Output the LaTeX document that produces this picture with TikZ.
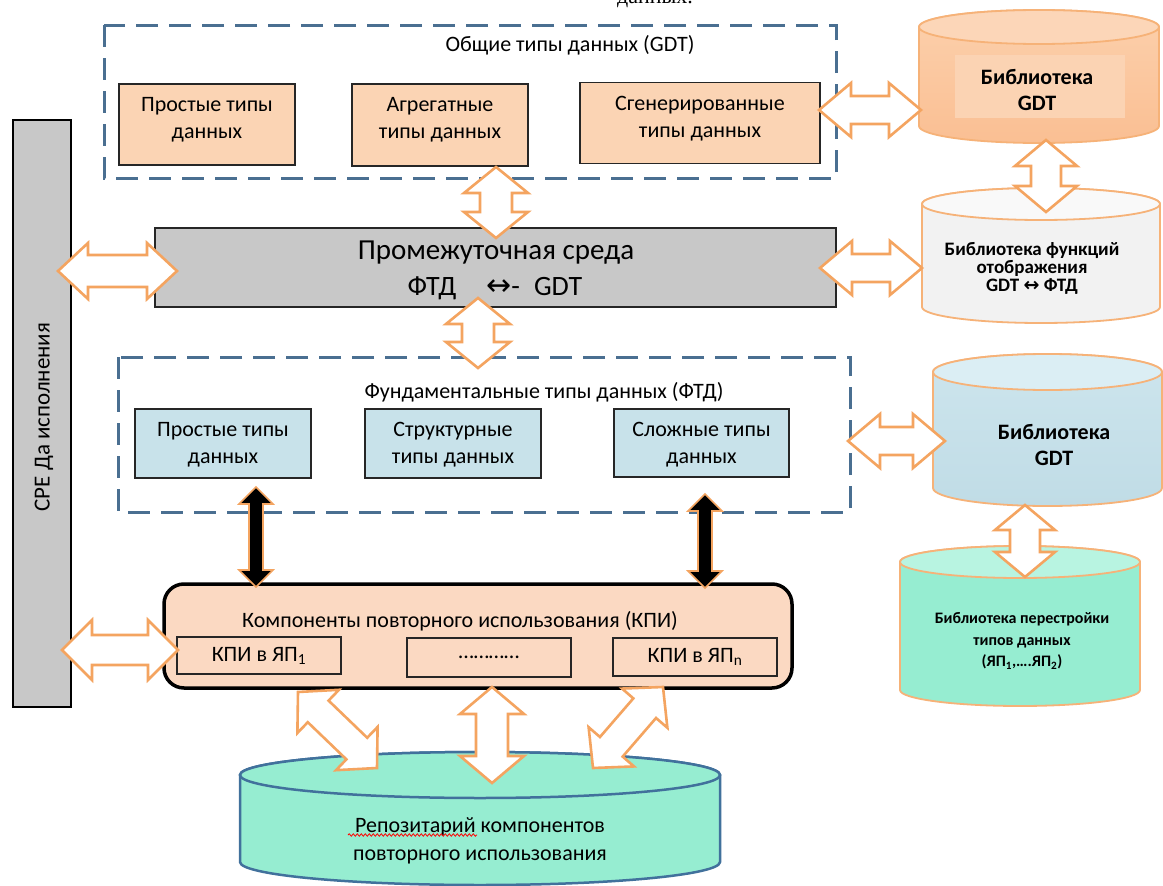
\documentclass[tikz,border=0pt]{standalone}
\usepackage{fontspec}
\setmainfont{Carlito}
\newfontfamily\symfont{DejaVu Sans}
\newfontfamily\serifru{Liberation Serif}
\usetikzlibrary{calc,decorations.pathmorphing}
\definecolor{peach}{HTML}{FBD4B4}
\definecolor{kpipeach}{HTML}{FBD9C2}
\definecolor{ltblue}{HTML}{C8E2EA}
\definecolor{midgray}{HTML}{C8C8C8}
\definecolor{dashblue}{HTML}{4A6F91}
\definecolor{arrorange}{HTML}{F4A460}
\definecolor{cylOa}{HTML}{FCD0AC}
\definecolor{cylOb}{HTML}{FABF93}
\definecolor{cylOtop}{HTML}{FCD6B8}
\definecolor{cylOinner}{HTML}{FBD3B3}
\definecolor{cylW}{HTML}{F2F2F2}
\definecolor{cylWtop}{HTML}{F9F9F9}
\definecolor{cylBa}{HTML}{CDE5ED}
\definecolor{cylBb}{HTML}{C0DCE6}
\definecolor{cylBtop}{HTML}{DBEEF4}
\definecolor{mint}{HTML}{96EDD1}
\definecolor{minttop}{HTML}{B8F4E1}
\definecolor{repoblue}{HTML}{41719C}
\newcommand{\fs}[2]{\fontsize{#1}{#2}\selectfont}
\tikzset{
  dashbox/.style={draw=dashblue, line width=3pt, dash pattern=on 22pt off 11pt},
  box/.style={draw=black!85, line width=1.2pt, inner sep=0pt},
  gbox/.style={box, fill=peach},
  fbox/.style={box, fill=ltblue},
  kbox/.style={box, fill=kpipeach},
  btext/.style={align=center, font=\fs{22}{27}},
  fatarr/.style={draw=arrorange, line width=2.6pt, fill=white, line join=miter},
  blackarr/.style={draw=arrorange, line width=1.6pt, fill=black, line join=miter},
  cylborder/.style={draw=arrorange!85, line width=1.8pt},
}
% #1 style, #2 from, #3 to, #4 shaft half, #5 head half, #6 head length
\newcommand{\fatarrow}[6][fatarr]{%
  \path[#1] let \p1=($(#3)-(#2)$), \n1={atan2(\y1,\x1)}, \n2={veclen(\x1,\y1)}, \n3={\n2-#6} in
   (#2) -- ($(#2)+(\n1:#6)+(\n1+90:#5)$) -- ($(#2)+(\n1:#6)+(\n1+90:#4)$)
   -- ($(#2)+(\n1:\n3)+(\n1+90:#4)$) -- ($(#2)+(\n1:\n3)+(\n1+90:#5)$)
   -- (#3) -- ($(#2)+(\n1:\n3)+(\n1-90:#5)$) -- ($(#2)+(\n1:\n3)+(\n1-90:#4)$)
   -- ($(#2)+(\n1:#6)+(\n1-90:#4)$) -- ($(#2)+(\n1:#6)+(\n1-90:#5)$) -- cycle;
}
% cylinder: #1 xleft, #2 xright, #3 top center y, #4 bottom center y, #5 rx(pt), #6 ry(pt), #7 body style, #8 top style
\newcommand{\cyl}[8]{%
  \path[#7] (#1,#3) -- (#1,#4) arc[start angle=180, end angle=360, x radius=#5, y radius=#6]
     -- (#2,#3) arc[start angle=0, end angle=180, x radius=#5, y radius=#6] -- cycle;
  \path[#8] ($(#1,#3)!0.5!(#2,#3)$) ellipse[x radius=#5, y radius=#6];
}
\begin{document}
\begin{tikzpicture}[x=1pt,y=-1pt]
\useasboundingbox (0,0) rectangle (1163,886);
\clip (0,0) rectangle (1163,886);
\fill[white] (0,0) rectangle (1163,886);

% cut-off caption text at the very top
\node[font=\serifru\fs{22}{26}, anchor=base] (captxt) at (655,3) {данных.};

% ---------------- GDT block ----------------
\draw[dashbox] (104,25) rectangle (836,178);
\node[font=\fs{22}{27}] (gdttitle) at (570,45) {Общие типы данных (GDT)};
\node[gbox, minimum width=176pt, minimum height=81pt] (g1) at (207,124.5) {};
\node[btext] (g1t) at (207,120) {Простые типы\\данных};
\node[gbox, minimum width=176pt, minimum height=82pt] (g2) at (440,125) {};
\node[btext] (g2t) at (440,120) {Агрегатные\\типы данных};
\node[gbox, minimum width=240pt, minimum height=81pt] (g3) at (700,123) {};
\node[btext] (g3t) at (700,119) {Сгенерированные\\типы данных};

% ---------------- cylinder 1 ----------------
\cyl{919}{1159}{27}{126}{120pt}{17pt}{cylborder, top color=cylOa, bottom color=cylOb}{cylborder, fill=cylOtop}
\fill[cylOinner] (955,55) rectangle (1125,118);
\node[align=center, font=\bfseries\fs{22}{26}] (cyl1) at (1037,90) {Библиотека\\GDT};

% ---------------- cylinder 2 ----------------
\cyl{922}{1160}{204}{307}{119pt}{16pt}{cylborder, fill=cylW}{cylborder, fill=cylWtop}
\node[align=center, font=\bfseries\fs{19}{18}] (cyl2) at (1032,268) {Библиотека функций\\отображения\\GDT {\symfont\fs{19}{18}↔} ФТД};

% ---------------- CPE bar ----------------
\node[draw=black, line width=1.5pt, fill=midgray, minimum width=58pt, minimum height=587pt, inner sep=0pt] (cpe) at (42,413.5) {};
\node[rotate=90, font=\fs{23}{27}] (cpet) at (44,417) {СРЕ Да исполнения};

% ---------------- middle box ----------------
\node[draw=black!85, line width=1.5pt, fill=midgray, minimum width=681pt, minimum height=79pt, inner sep=0pt] (mid) at (495.5,267.5) {};
\node[font=\fs{29}{32}] (midt1) at (496,253) {Промежуточная среда};
\node[font=\fs{28}{32}] (midt2) at (495,288) {ФТД\hspace{30pt}{\symfont\fs{30}{32}↔}-\hspace{14pt}GDT};

% ---------------- cylinder 3 ----------------
\cyl{933}{1162}{372}{488}{114.5pt}{18pt}{cylborder, top color=cylBa, bottom color=cylBb}{cylborder, fill=cylBtop}
\node[align=center, font=\bfseries\fs{22}{26}] (cyl3) at (1054,445) {Библиотека\\GDT};

% ---------------- cylinder 4 ----------------
\cyl{900}{1140}{562}{690}{120pt}{16pt}{cylborder, fill=mint}{cylborder, fill=minttop}
\node[align=center, font=\bfseries\fs{16}{21.5}] (cyl4) at (1022,641) {Библиотека перестройки\\типов данных\\(ЯП\textsubscript{1},….ЯП\textsubscript{2})};

% ---------------- FTD block ----------------
\draw[dashbox] (118,357) rectangle (850,512);
\node[font=\fs{22}{27}] (ftdtitle) at (544,392) {Фундаментальные типы данных (ФТД)};
\node[fbox, minimum width=176pt, minimum height=69pt] (f1) at (223,443.5) {};
\node[btext] (f1t) at (223,445) {Простые типы\\данных};
\node[fbox, minimum width=176pt, minimum height=69pt] (f2) at (453,443.5) {};
\node[btext] (f2t) at (453,445) {Структурные\\типы данных};
\node[fbox, minimum width=175pt, minimum height=68pt] (f3) at (701.5,443) {};
\node[btext] (f3t) at (701.5,445) {Сложные типы\\данных};

% ---------------- KPI block ----------------
\node[draw=black, line width=3.5pt, fill=kpipeach, rounded corners=20pt, minimum width=628pt, minimum height=104pt, inner sep=0pt] (kpi) at (478,636) {};
\node[font=\fs{22}{27}] (kpit) at (460,621) {Компоненты повторного использования (КПИ)};
\node[kbox, minimum width=164pt, minimum height=37pt, font=\fs{22}{27}] (k1) at (259,655.5) {КПИ в ЯП\textsubscript{1}};
\node[kbox, minimum width=164pt, minimum height=39pt, font=\fs{22}{27}] (k2) at (489,657.5) {…………};
\node[kbox, minimum width=164pt, minimum height=38pt, font=\fs{22}{27}] (k3) at (695,657) {КПИ в ЯП\textsubscript{n}};

% ---------------- repository ----------------
\cyl{240}{720}{775}{862}{240pt}{23pt}{draw=repoblue, line width=2.5pt, fill=mint}{draw=repoblue, line width=2.5pt, fill=mint}
\node[align=center, font=\fs{22}{28}] (repo) at (480,841) {Репозитарий компонентов\\повторного использования};
\draw[red, line width=0.8pt, decorate, decoration={snake, amplitude=1.2pt, segment length=4pt}] (348,835) -- (477,835);

% ---------------- connectors ----------------
\coordinate (a1l) at (819,110);   \coordinate (a1r) at (921,110);
\coordinate (a2t) at (1046,140);  \coordinate (a2b) at (1046,212);
\coordinate (a3t) at (496,167);   \coordinate (a3b) at (496,238);
\coordinate (a4l) at (58,271);    \coordinate (a4r) at (177,271);
\coordinate (a5l) at (820,268);   \coordinate (a5r) at (922,268);
\coordinate (a6t) at (478,298);   \coordinate (a6b) at (478,368);
\coordinate (a7l) at (848,441);   \coordinate (a7r) at (945,441);
\coordinate (a8t) at (1025,505);  \coordinate (a8b) at (1025,577);
\coordinate (a9l) at (62,650);    \coordinate (a9r) at (178,650);
\coordinate (b1t) at (256,487);   \coordinate (b1b) at (256,587);
\coordinate (b2t) at (705,494);   \coordinate (b2b) at (705,588);
\coordinate (c1t) at (298,692);   \coordinate (c1b) at (377,768);
\coordinate (c2t) at (492,687);   \coordinate (c2b) at (492,783);
\coordinate (c3t) at (663,687);   \coordinate (c3b) at (593,768);

\fatarrow{a1l}{a1r}{14pt}{27pt}{32pt}
\fatarrow{a2t}{a2b}{15pt}{31pt}{26pt}
\fatarrow{a3t}{a3b}{16pt}{32pt}{26pt}
\fatarrow{a4l}{a4r}{16pt}{28pt}{30pt}
\fatarrow{a5l}{a5r}{14pt}{27pt}{32pt}
\fatarrow{a6t}{a6b}{16pt}{32pt}{26pt}
\fatarrow{a7l}{a7r}{14pt}{27pt}{32pt}
\fatarrow{a8t}{a8b}{15pt}{30pt}{25pt}
\fatarrow{a9l}{a9r}{15pt}{30pt}{30pt}
\fatarrow[blackarr]{b1t}{b1b}{7pt}{17pt}{17pt}
\fatarrow[blackarr]{b2t}{b2b}{7pt}{17pt}{17pt}
\fatarrow{c1t}{c1b}{15pt}{30pt}{28pt}
\fatarrow{c2t}{c2b}{16pt}{32pt}{27pt}
\fatarrow{c3t}{c3b}{15pt}{30pt}{28pt}
\end{tikzpicture}
\end{document}
